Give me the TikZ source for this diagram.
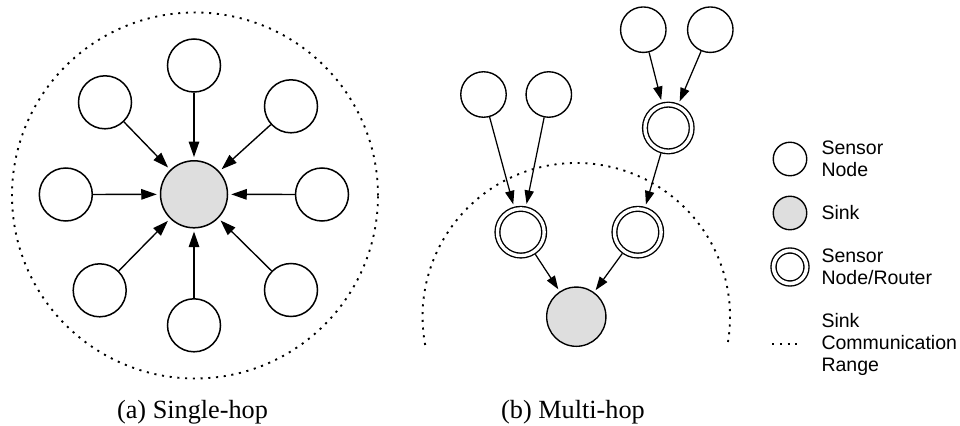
\documentclass[tikz,border=0pt]{standalone}
\usepackage{fontspec}
\setmainfont{Liberation Serif}
\newfontfamily\legendfont{Liberation Sans}
\usetikzlibrary{arrows.meta}
\definecolor{sinkfill}{RGB}{222,222,222}

\begin{document}
\begin{tikzpicture}[x=0.4pt,y=-0.4pt,
  % single-hop panel
  sensorA/.style={circle, draw, line width=0.6pt, minimum size=21.2pt, inner sep=0pt},
  sinkA/.style={circle, draw, fill=sinkfill, line width=0.6pt, minimum size=26.8pt, inner sep=0pt},
  flowA/.style={line width=0.55pt, -{Triangle[length=6.2pt,width=4.2pt]}, shorten >=1.2pt},
  % multi-hop panel
  sensorB/.style={circle, draw, line width=0.55pt, minimum size=18.2pt, inner sep=0pt},
  sinkB/.style={circle, draw, fill=sinkfill, line width=0.55pt, minimum size=23.7pt, inner sep=0pt},
  routerB/.style={circle, draw, double, double distance=1.33pt, line width=0.55pt,
                  minimum size=18.7pt, inner sep=0pt, outer sep=1.2pt},
  flowB/.style={line width=0.5pt, -{Triangle[length=5.4pt,width=3.7pt]}, shorten >=1pt},
  % legend
  keysensor/.style={circle, draw, line width=0.55pt, minimum size=13.4pt, inner sep=0pt},
  keysink/.style={circle, draw, fill=sinkfill, line width=0.55pt, minimum size=13.4pt, inner sep=0pt},
  keyrouter/.style={circle, draw, double, double distance=1.45pt, line width=0.55pt,
                    minimum size=13.2pt, inner sep=0pt},
  keytext/.style={anchor=west, align=left, inner sep=0pt,
                  font=\legendfont\fontsize{7.8pt}{8.8pt}\selectfont},
  commrange/.style={line width=0.75pt, dash pattern=on 0.85pt off 2.25pt},
  caption/.style={anchor=base, inner sep=0pt, font=\fontsize{10.5pt}{12pt}\selectfont}
]
\useasboundingbox (0,0) rectangle (960,426);

% ---- (a) single-hop ----
\draw[commrange] (195,195.5) circle[radius=73.2pt];
\node[sinkA] (sa) at (194,194.3) {};
\node[sensorA] (a1) at (194,65.5) {};
\node[sensorA] (a2) at (291,106.3) {};
\node[sensorA] (a3) at (322,194.5) {};
\node[sensorA] (a4) at (291,290) {};
\node[sensorA] (a5) at (194,325.3) {};
\node[sensorA] (a6) at (99.7,290.3) {};
\node[sensorA] (a7) at (65.8,194.5) {};
\node[sensorA] (a8) at (105,102.3) {};
\foreach \s in {a1,a2,a3,a4,a5,a6,a7,a8}
  \draw[flowA] (\s) -- (sa);
\node[caption] (capa) at (192.5,418) {(a) Single-hop};

% ---- (b) multi-hop ----
\node[sinkB] (sb) at (576.3,316.7) {};
\draw[commrange] (sb.center) ++(190.6:61.5pt) arc[start angle=190.6, end angle=-10.6, radius=61.5pt];
\node[routerB] (rl) at (520.8,232.2) {};
\node[routerB] (rr) at (637.8,232.2) {};
\node[routerB] (rt) at (668.3,128) {};
\node[sensorB] (b1) at (483.5,94.5) {};
\node[sensorB] (b2) at (548.8,94.5) {};
\node[sensorB] (b3) at (643.3,29.7) {};
\node[sensorB] (b4) at (710.3,29.7) {};
\draw[flowB] (b1) -- (rl);
\draw[flowB] (b2) -- (rl);
\draw[flowB] (b3) -- (rt);
\draw[flowB] (b4) -- (rt);
\draw[flowB] (rt) -- (rr);
\draw[flowB] (rl) -- (sb);
\draw[flowB] (rr) -- (sb);
\node[caption] (capb) at (573,418) {(b) Multi-hop};

% ---- legend ----
\node[keysensor] (k1) at (790,159) {};
\node[keytext] (t1) at (821,159) {Sensor\\Node};
\node[keysink] (k2) at (790,213) {};
\node[keytext] (t2) at (821,213) {Sink};
\node[keyrouter] (k3) at (790,267) {};
\node[keytext] (t3) at (821,267) {Sensor\\Node/Router};
\coordinate (k4a) at (772,344);
\coordinate (k4b) at (802,344);
\draw[commrange] (k4a) -- (k4b);
\node[keytext] (t4) at (821,344) {Sink\\Communication\\Range};
\end{tikzpicture}
\end{document}
